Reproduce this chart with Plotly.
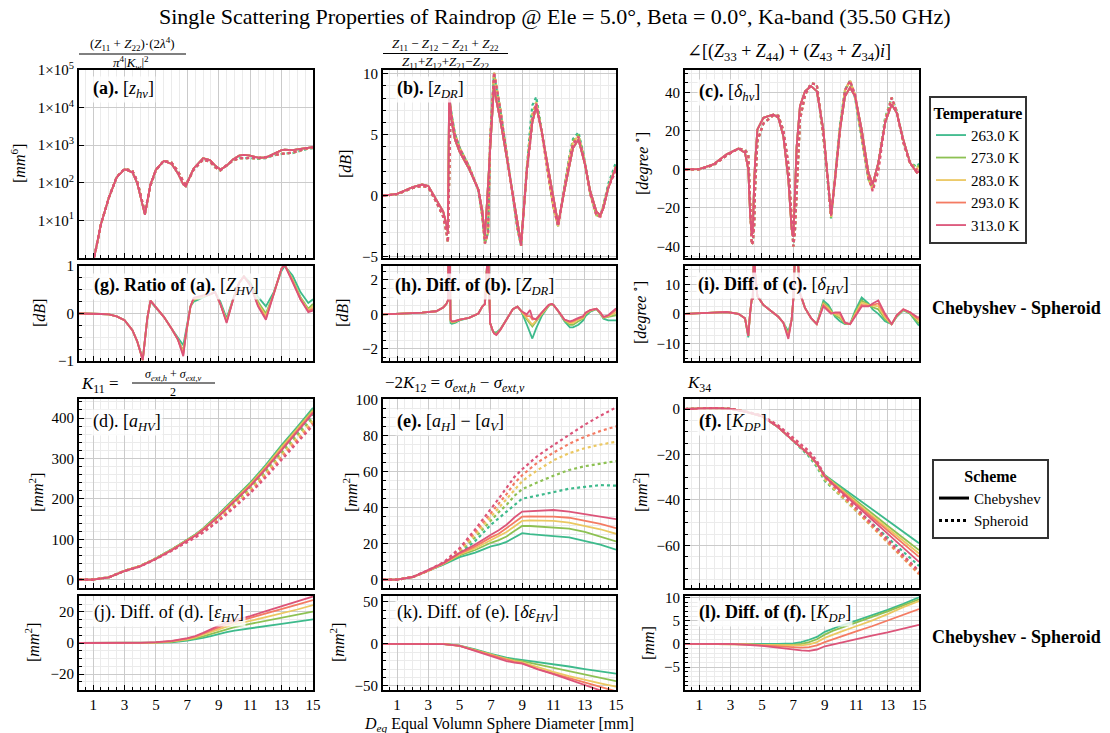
import plotly.graph_objects as go

W, H = 1110, 733
FONT = "'Liberation Serif', 'DejaVu Serif', 'Times New Roman', serif"

TEMPERATURES = ["263.0 K", "273.0 K", "283.0 K", "293.0 K", "313.0 K"]
COLORS = ["#3dba8c", "#8dc153", "#ebc862", "#f47b63", "#dc5479"]
X_TICKS = [1, 3, 5, 7, 9, 11, 13, 15]

# ---------------- panel (a) / (g) : z_hv and its Chebyshev/Spheroid ratio ----------------
D_a = [0.1, 0.5, 1.0, 1.5, 2.0, 2.5, 3.0, 3.5, 3.8, 4.05, 4.16, 4.3, 4.45, 4.65, 5.0, 5.5, 6.0,
       6.4, 6.74, 6.9, 7.2, 7.4, 8.0, 8.44, 8.76, 9.1, 9.5, 9.9, 10.3, 10.6, 11.0, 11.5, 12.0,
       12.5, 13.0, 13.2, 13.7, 14.2, 14.7, 15.0]
zhv_cheb = [1e-6, 0.012, 0.75, 8, 40, 140, 230, 190, 100, 38, 22, 14, 32, 90, 225, 380, 316,
            178, 90, 80, 158, 240, 450, 400, 290, 225, 282, 417, 525, 550, 525, 470, 468,
            600, 740, 760, 740, 795, 850, 890]
ratio_263 = [0, 0, 0, -0.01, -0.02, -0.06, -0.14, -0.35, -0.58, -0.85, -0.95, -0.55, -0.1, 0.25, 0.12, -0.07, -0.32,
             -0.5, -0.67, -0.38, 0.15, 0.25, 0.34, 0.4, 0.45, 0.25, -0.1, 0.3, 0.65, 0.78, 0.65, 0.35, 0.15,
             0.45, 0.9, 1.0, 0.8, 0.45, 0.22, 0.3]
ratio_273 = [0, 0, 0, -0.01, -0.02, -0.06, -0.14, -0.35, -0.58, -0.85, -0.98, -0.55, -0.1, 0.27, 0.12, -0.07, -0.32,
             -0.55, -0.78, -0.45, 0.15, 0.28, 0.35, 0.4, 0.45, 0.2, -0.14, 0.28, 0.65, 0.78, 0.6, 0.25, 0.0,
             0.42, 0.95, 1.02, 0.72, 0.35, 0.1, 0.2]
ratio_283 = [0, 0, 0, -0.01, -0.02, -0.06, -0.14, -0.35, -0.58, -0.85, -0.98, -0.55, -0.1, 0.27, 0.12, -0.07, -0.32,
             -0.55, -0.82, -0.45, 0.15, 0.3, 0.36, 0.4, 0.45, 0.2, -0.16, 0.28, 0.65, 0.78, 0.6, 0.2, -0.05,
             0.4, 0.95, 1.02, 0.7, 0.32, 0.07, 0.15]
ratio_293 = [0, 0, 0, -0.01, -0.02, -0.06, -0.14, -0.35, -0.58, -0.85, -0.98, -0.55, -0.1, 0.27, 0.12, -0.07, -0.32,
             -0.55, -0.86, -0.45, 0.15, 0.32, 0.37, 0.4, 0.45, 0.2, -0.18, 0.28, 0.65, 0.78, 0.6, 0.17, -0.1,
             0.4, 0.95, 1.02, 0.68, 0.3, 0.05, 0.1]
ratio_313 = [0, 0, 0, -0.01, -0.02, -0.06, -0.14, -0.35, -0.58, -0.85, -0.98, -0.55, -0.1, 0.27, 0.12, -0.07, -0.32,
             -0.55, -0.9, -0.45, 0.15, 0.33, 0.38, 0.4, 0.45, 0.2, -0.2, 0.28, 0.65, 0.78, 0.6, 0.15, -0.13,
             0.4, 0.95, 1.02, 0.66, 0.3, 0.03, 0.06]

# ---------------- panel (b) / (h) : Z_DR ----------------
D_b = [0.1, 1.0, 2.0, 2.6, 3.0, 3.5, 3.95, 4.15, 4.25, 4.33, 4.42, 4.5, 4.7, 5.0, 5.6, 6.2, 6.45,
       6.62, 6.82, 6.95, 7.1, 7.2, 7.35, 7.6, 8.0, 8.4, 8.7, 8.93, 9.3, 9.5, 9.65, 9.9, 10.25,
       10.7, 10.9, 11.0, 11.3, 11.7, 12.05, 12.25, 12.6, 12.9, 13.05, 13.35, 13.75, 14.0, 14.2,
       14.5, 15.0]
zdr_cheb = [0.0, 0.15, 0.7, 0.92, 0.8, -0.3, -1.3, -2.3, -3.0, 8.5, 6.8, 6.0, 4.6, 3.6, 2.2, 0.5, -1.2,
            -3.3, 1.0, 4.0, 7.0, 9.0, 7.8, 6.2, 3.2, 0.2, -2.2, -3.9, 2.1, 4.4, 6.0, 7.3, 5.3,
            2.0, 0.6, -0.4, -2.3, 0.4, 2.7, 3.9, 4.6, 3.2, 2.4, 0.4, -1.3, -1.6, -1.0,
            0.6, 2.4]
zdr_diff_263 = [0.0, 0.02, 0.07, 0.1, 0.12, 0.18, 0.4, 0.6, 0.8, 7.0, -0.5, -0.55, -0.5, -0.35, -0.2, 0.05, 0.45,
                0.6, 4.0, -0.5, -0.9, -1.05, -1.05, -0.85, -0.3, 0.3, 0.45, 0.2, -0.6, -1.1, -1.4, -0.8, -0.1,
                0.5, 0.6, 0.55, 0.2, -0.4, -0.75, -0.75, -0.6, -0.35, -0.1, 0.15, 0.3, 0.05, -0.25,
                -0.35, -0.35]
zdr_diff_273 = [0.0, 0.02, 0.07, 0.1, 0.12, 0.18, 0.4, 0.6, 0.8, 7.0, -0.4, -0.48, -0.45, -0.32, -0.2, 0.05, 0.45,
                0.6, 4.0, -0.5, -0.9, -1.08, -1.12, -0.88, -0.3, 0.3, 0.45, 0.2, -0.3, -0.55, -0.7, -0.4, 0.0,
                0.5, 0.6, 0.55, 0.2, -0.35, -0.6, -0.6, -0.4, -0.25, 0.0, 0.2, 0.31, 0.06, -0.2,
                -0.15, -0.05]
zdr_diff_283 = [0.0, 0.02, 0.07, 0.1, 0.12, 0.18, 0.4, 0.6, 0.8, 7.0, -0.36, -0.45, -0.42, -0.3, -0.2, 0.05, 0.45,
                0.6, 4.0, -0.5, -0.9, -1.1, -1.15, -0.9, -0.3, 0.3, 0.45, 0.2, -0.2, -0.4, -0.6, -0.35, 0.05,
                0.52, 0.6, 0.55, 0.2, -0.32, -0.5, -0.5, -0.3, -0.2, 0.05, 0.22, 0.32, 0.08, -0.18,
                -0.1, 0.1]
zdr_diff_293 = [0.0, 0.02, 0.07, 0.1, 0.12, 0.18, 0.4, 0.6, 0.8, 7.0, -0.33, -0.42, -0.4, -0.3, -0.2, 0.05, 0.45,
                0.6, 4.0, -0.5, -0.9, -1.1, -1.18, -0.9, -0.3, 0.3, 0.45, 0.2, -0.1, -0.1, -0.3, -0.25, 0.1,
                0.55, 0.6, 0.55, 0.2, -0.3, -0.45, -0.4, -0.25, -0.15, 0.08, 0.24, 0.32, 0.1, -0.16,
                -0.08, 0.25]
zdr_diff_313 = [0.0, 0.02, 0.07, 0.1, 0.12, 0.18, 0.4, 0.6, 0.8, 7.0, -0.3, -0.4, -0.38, -0.3, -0.2, 0.05, 0.45,
                0.6, 4.0, -0.5, -0.9, -1.1, -1.2, -0.9, -0.3, 0.3, 0.45, 0.2, 0.0, 0.25, -0.2, -0.3, 0.1,
                0.55, 0.6, 0.55, 0.2, -0.3, -0.4, -0.35, -0.2, -0.1, 0.1, 0.25, 0.33, 0.1, -0.15,
                -0.05, 0.35]

# ---------------- panel (c) / (i) : delta_hv ----------------
D_c = [0.1, 1.0, 1.9, 2.75, 3.5, 3.92, 4.13, 4.24, 4.35, 4.41, 4.5, 4.56, 4.71, 5.09, 5.73, 6.04,
       6.36, 6.68, 6.89, 7.0, 7.1, 7.21, 7.42, 7.74, 8.13, 8.49, 8.91, 9.23, 9.4, 9.65, 9.97,
       10.29, 10.61, 10.93, 11.35, 11.78, 12.05, 12.41, 12.84, 13.26, 13.58, 14.0, 14.43, 14.86, 15.0]
dhv_cheb = [0.0, 0.1, 2.6, 7.8, 10.8, 8.6, 0.0, -22.0, -34.0, -33.0, -8.0, 3.5, 20.7, 26.8, 28.5, 26.8,
            17.3, -5.2, -31.0, -35.0, -12.0, 12.0, 32.8, 40.6, 43.2, 40.6, 20.7, -6.9, -24.0, -5.2, 20.7,
            38.0, 42.5, 38.0, 20.7, -1.7, -7.8, 3.5, 24.2, 33.7, 29.4, 15.5, 3.5, -1.7, -1.0]
dhv_diff_263 = [0.0, 0.1, 0.4, 0.6, 0.0, -1.5, -8.0, 0.0, 5.0, 5.0, 22.0, 14.0, 6.0, 3.0, 0.3, -1.0,
                -3.0, -6.0, -2.0, 5.0, 20.0, 25.0, 7.0, 2.0, -1.5, -3.5, 4.5, 3.0, 1.5, -1.0, -2.5,
                -3.5, -3.5, 1.0, 5.5, 3.5, 1.5, 0.0, -2.5, -3.5, -1.0, 1.2, 0.0, -3.0, -4.0]
dhv_diff_273 = [0.0, 0.1, 0.4, 0.6, 0.0, -1.5, -7.5, 0.0, 5.0, 5.0, 22.0, 14.0, 6.0, 3.0, 0.3, -1.0,
                -3.0, -7.0, -2.0, 5.0, 20.0, 25.0, 7.0, 2.0, -1.5, -3.5, 3.8, 2.3, 1.0, -0.5, -1.5,
                -3.3, -3.5, 0.3, 4.5, 3.2, 2.2, 1.5, -1.8, -3.5, -0.8, 1.3, 0.2, -2.5, -3.2]
dhv_diff_283 = [0.0, 0.1, 0.4, 0.6, 0.0, -1.5, -7.5, 0.0, 5.0, 5.0, 22.0, 14.0, 6.0, 3.0, 0.3, -1.0,
                -3.0, -7.5, -2.0, 5.0, 20.0, 25.0, 7.0, 2.0, -1.5, -3.5, 3.3, 1.8, 0.6, -0.1, -0.8,
                -3.2, -3.5, -0.2, 3.8, 3.0, 2.7, 2.5, -1.2, -3.5, -0.6, 1.4, 0.4, -2.0, -2.5]
dhv_diff_293 = [0.0, 0.1, 0.4, 0.6, 0.0, -1.5, -7.5, 0.0, 5.0, 5.0, 22.0, 14.0, 6.0, 3.0, 0.3, -1.0,
                -3.0, -8.0, -2.0, 5.0, 20.0, 25.0, 7.0, 2.0, -1.5, -3.5, 3.0, 1.4, 0.3, 0.2, 0.0,
                -3.1, -3.5, -0.6, 3.0, 2.7, 3.1, 3.5, -0.6, -3.5, -0.5, 1.5, 0.5, -1.5, -1.8]
dhv_diff_313 = [0.0, 0.1, 0.4, 0.6, 0.0, -1.5, -7.5, 0.0, 5.0, 5.0, 22.0, 14.0, 6.0, 3.0, 0.3, -1.0,
                -3.0, -8.5, -2.0, 5.0, 20.0, 25.0, 7.0, 2.0, -1.5, -3.5, 2.5, 1.0, 0.0, 0.5, 0.5,
                -3.0, -3.5, -1.0, 2.5, 2.5, 3.5, 4.5, 0.0, -3.5, -0.5, 1.5, 0.5, -1.0, -1.2]

# ---------------- smooth panels (d)(e)(f) and (j)(k)(l) ----------------
D_s = [0.1, 1, 2, 3, 4, 5, 6, 7, 7.5, 8, 8.5, 9, 9.5, 10, 11, 12, 13, 14, 15]

ahv_cheb_263 = [0, 0.4, 6, 22, 34, 53, 75, 99, 112, 127, 144, 163, 182, 201, 240, 284, 333, 378, 425]
ahv_cheb_273 = [0, 0.4, 6, 22, 34, 53, 74.5, 98, 111, 126, 142.5, 161, 180, 199, 238, 281, 330, 375, 421]
ahv_cheb_283 = [0, 0.4, 6, 22, 34, 52.5, 74, 97.5, 110, 125, 141, 160, 178, 197, 235, 279, 327, 372, 418]
ahv_cheb_293 = [0, 0.4, 6, 22, 33.5, 52, 73.5, 97, 109.5, 124, 140, 158.5, 177, 195, 233, 277, 324, 369, 415]
ahv_cheb_313 = [0, 0.4, 6, 21.5, 33, 51.5, 73, 96, 108.5, 123, 139, 157, 175, 193, 231, 274, 321, 366, 412]

ahv_diff_263 = [0, 0, 0, 0, 0, 0.1, 0.4, 1.5, 2.3, 3.3, 4.5, 5.9, 7.0, 8.0, 9.6, 11.0, 12.4, 13.8, 15.3]
ahv_diff_273 = [0, 0, 0, 0, 0, 0.2, 0.7, 2.0, 3.0, 4.3, 5.8, 7.5, 9.0, 10.2, 12.3, 14.2, 16.0, 18.0, 20.2]
ahv_diff_283 = [0, 0, 0, 0, 0, 0.3, 1.0, 2.4, 3.6, 5.2, 7.0, 8.8, 10.6, 12.0, 14.2, 16.6, 19.0, 21.6, 24.5]
ahv_diff_293 = [0, 0, 0, 0, 0.05, 0.4, 1.2, 2.8, 4.1, 5.9, 8.0, 10.0, 12.0, 13.4, 15.9, 18.8, 21.7, 24.7, 27.7]
ahv_diff_313 = [0, 0, 0, 0, 0.1, 0.5, 1.4, 3.1, 4.5, 6.5, 9.0, 11.4, 13.5, 14.8, 17.4, 20.5, 23.8, 27.0, 30.0]

ahv_dif_cheb_263 = [0, 0, 1.5, 5, 8.5, 12.5, 15, 18.5, 19.5, 21, 23.5, 25.8, 25.3, 24.8, 24.2, 23.5, 21.5, 19.5, 16.7]
ahv_dif_cheb_273 = [0, 0, 1.5, 5, 9, 13.5, 16.5, 20.5, 22, 24, 27, 29.8, 29.8, 29.6, 29.2, 28.4, 26.5, 24.0, 21.3]
ahv_dif_cheb_283 = [0, 0, 1.5, 5, 9, 14, 17.5, 22, 24, 26.5, 29.5, 32.7, 32.9, 32.9, 32.7, 31.7, 30.0, 28.0, 25.5]
ahv_dif_cheb_293 = [0, 0, 1.5, 5, 9.2, 14.5, 18.5, 23.5, 25.5, 28.5, 32, 35.0, 35.1, 35.2, 35.0, 34.4, 32.8, 31.0, 28.6]
ahv_dif_cheb_313 = [0, 0, 1.5, 5.3, 9.5, 15, 19.5, 25, 27.5, 30.5, 34.5, 37.8, 38.0, 38.3, 38.7, 37.8, 36.5, 35.0, 33.6]

ahv_dif_diff_263 = [0, 0, 0, 0, -0.2, -2.2, -6.5, -12.0, -14.5, -16.5, -18.0, -19.2, -20.5, -22.0, -24.5, -27.0, -30.0, -33.0, -35.5]
ahv_dif_diff_273 = [0, 0, 0, 0, -0.2, -2.2, -7.0, -12.5, -15.5, -17.5, -19.5, -20.5, -22.5, -24.5, -28.5, -32.5, -36.5, -40.5, -44.5]
ahv_dif_diff_283 = [0, 0, 0, 0, -0.2, -2.3, -7.5, -13.0, -16.0, -18.5, -20.5, -22.0, -25.0, -28.0, -33.5, -38.5, -43.0, -47.0, -51.0]
ahv_dif_diff_293 = [0, 0, 0, 0, -0.3, -2.4, -8.0, -13.5, -16.5, -19.0, -21.5, -23.0, -26.5, -30.0, -35.5, -41.0, -46.5, -51.5, -56.5]
ahv_dif_diff_313 = [0, 0, 0, 0, -0.3, -2.5, -8.5, -14.0, -17.5, -20.5, -22.5, -23.5, -27.0, -30.5, -36.0, -42.5, -49.5, -56.0, -62.0]

kdp_cheb_263 = [0, 0.2, 0.4, 0.1, -1.3, -3.2, -7.8, -14.0, -17.0, -20.0, -24.0, -29.0, -31.5, -34.0, -39.0, -44.0, -49.0, -54.0, -59.0]
kdp_cheb_273 = [0, 0.2, 0.4, 0.1, -1.3, -3.2, -7.8, -14.0, -17.0, -20.0, -24.0, -29.2, -32.0, -34.8, -40.3, -45.8, -51.3, -56.7, -62.0]
kdp_cheb_283 = [0, 0.2, 0.4, 0.1, -1.3, -3.2, -7.8, -14.0, -17.0, -20.0, -24.0, -29.4, -32.3, -35.3, -41.0, -46.8, -52.5, -58.0, -63.5]
kdp_cheb_293 = [0, 0.2, 0.4, 0.1, -1.3, -3.2, -7.8, -14.0, -17.0, -20.0, -24.0, -29.6, -32.6, -35.7, -41.6, -47.6, -53.5, -59.3, -65.0]
kdp_cheb_313 = [0, 0.2, 0.4, 0.1, -1.3, -3.2, -7.8, -14.0, -17.0, -20.0, -24.0, -29.8, -33.0, -36.2, -42.4, -48.6, -54.8, -61.0, -67.2]

kdp_diff_263 = [0, 0, 0, 0, -0.1, -0.1, 0, 0.1, 0.4, 0.9, 1.5, 2.6, 3.3, 3.9, 5.0, 6.1, 7.3, 8.6, 10.0]
kdp_diff_273 = [0, 0, 0, 0, -0.1, -0.2, -0.2, -0.2, 0.0, 0.4, 1.0, 2.0, 2.8, 3.4, 4.5, 5.7, 7.0, 8.3, 9.6]
kdp_diff_283 = [0, 0, 0, 0, -0.1, -0.2, -0.3, -0.4, -0.3, -0.1, 0.4, 1.3, 2.0, 2.6, 3.8, 5.0, 6.4, 7.9, 9.2]
kdp_diff_293 = [0, 0, 0, 0, -0.1, -0.3, -0.5, -0.8, -0.8, -0.7, -0.3, 0.4, 1.0, 1.6, 2.7, 3.8, 5.0, 6.3, 7.5]
kdp_diff_313 = [0, 0, 0, 0, -0.2, -0.4, -0.8, -1.3, -1.4, -1.5, -1.2, -0.5, -0.1, 0.3, 1.1, 1.8, 2.5, 3.3, 4.1]

zhv_ratio = [ratio_263, ratio_273, ratio_283, ratio_293, ratio_313]
zdr_diff = [zdr_diff_263, zdr_diff_273, zdr_diff_283, zdr_diff_293, zdr_diff_313]
dhv_diff = [dhv_diff_263, dhv_diff_273, dhv_diff_283, dhv_diff_293, dhv_diff_313]
ahv_cheb = [ahv_cheb_263, ahv_cheb_273, ahv_cheb_283, ahv_cheb_293, ahv_cheb_313]
ahv_diff = [ahv_diff_263, ahv_diff_273, ahv_diff_283, ahv_diff_293, ahv_diff_313]
ahd_cheb = [ahv_dif_cheb_263, ahv_dif_cheb_273, ahv_dif_cheb_283, ahv_dif_cheb_293, ahv_dif_cheb_313]
ahd_diff = [ahv_dif_diff_263, ahv_dif_diff_273, ahv_dif_diff_283, ahv_dif_diff_293, ahv_dif_diff_313]
kdp_cheb = [kdp_cheb_263, kdp_cheb_273, kdp_cheb_283, kdp_cheb_293, kdp_cheb_313]
kdp_diff = [kdp_diff_263, kdp_diff_273, kdp_diff_283, kdp_diff_293, kdp_diff_313]

# ---------------- figure ----------------
fig = go.Figure()


def names(n):
    return ("x" if n == 1 else f"x{n}"), ("y" if n == 1 else f"y{n}")


def line(n, x, y, color, dash="solid", width=1.8, name=None, show=False):
    xa, ya = names(n)
    fig.add_trace(go.Scatter(x=x, y=y, xaxis=xa, yaxis=ya, mode="lines",
                             line=dict(color=color, width=width, dash=dash),
                             name=name, showlegend=show, legend="legend",
                             hoverinfo="skip"))


for t in range(5):
    c = COLORS[t]
    # (a)
    line(1, D_a, zhv_cheb, c, name=TEMPERATURES[t], show=True)
    line(1, D_a, [v / 10 ** (r / 10) for v, r in zip(zhv_cheb, zhv_ratio[t])], c, "dot", 2.2)
    # (b)
    line(2, D_b, zdr_cheb, c)
    line(2, D_b, [v - d for v, d in zip(zdr_cheb, zdr_diff[t])], c, "dot", 2.2)
    # (c)
    line(3, D_c, dhv_cheb, c)
    line(3, D_c, [v - d for v, d in zip(dhv_cheb, dhv_diff[t])], c, "dot", 2.2)
    # (g)(h)(i)
    line(4, D_a, zhv_ratio[t], c)
    line(5, D_b, zdr_diff[t], c)
    line(6, D_c, dhv_diff[t], c)
    # (d)(e)(f)
    line(7, D_s, ahv_cheb[t], c)
    line(7, D_s, [v - d for v, d in zip(ahv_cheb[t], ahv_diff[t])], c, "dot", 2.2)
    line(8, D_s, ahd_cheb[t], c)
    line(8, D_s, [v - d for v, d in zip(ahd_cheb[t], ahd_diff[t])], c, "dot", 2.2)
    line(9, D_s, kdp_cheb[t], c)
    line(9, D_s, [v - d for v, d in zip(kdp_cheb[t], kdp_diff[t])], c, "dot", 2.2)
    # (j)(k)(l)
    line(10, D_s, ahv_diff[t], c)
    line(11, D_s, ahd_diff[t], c)
    line(12, D_s, kdp_diff[t], c)

# scheme legend entries
fig.add_trace(go.Scatter(x=[None], y=[None], mode="lines", name="Chebyshev",
                         line=dict(color="black", width=3), legend="legend2"))
fig.add_trace(go.Scatter(x=[None], y=[None], mode="lines", name="Spheroid",
                         line=dict(color="black", width=3, dash="dot"), legend="legend2"))

COLS = [(79, 313), (383, 616), (685, 919)]
ROWS = [(70, 258), (266, 361), (399, 588), (596, 690)]

PANELS = {
    1: dict(r=0, c=0, rng=[0, 5], log=True),
    2: dict(r=0, c=1, rng=[-5.1, 10.3], dt=5, mn=1),
    3: dict(r=0, c=2, rng=[-46, 51.6], dt=20, mn=5),
    4: dict(r=1, c=0, rng=[-1, 1], dt=1, mn=0.25),
    5: dict(r=1, c=1, rng=[-2.7, 2.8], dt=2, mn=0.5),
    6: dict(r=1, c=2, rng=[-16, 16.2], dt=10, mn=2.5),
    7: dict(r=2, c=0, rng=[-20.5, 447], dt=100, mn=20),
    8: dict(r=2, c=1, rng=[-4.6, 100.3], dt=20, mn=5),
    9: dict(r=2, c=2, rng=[-78.7, 4.4], dt=20, mn=5),
    10: dict(r=3, c=0, rng=[-30.3, 30.3], dt=20, mn=5),
    11: dict(r=3, c=1, rng=[-55, 57], dt=50, mn=10),
    12: dict(r=3, c=2, rng=[-9.9, 10.3], dt=5, mn=1),
}

GRID = "#cbcbcb"
MINOR_GRID = "#ebebeb"
tickfont = dict(family=FONT, size=15, color="black")
layout = {}
for n, p in PANELS.items():
    x0, x1 = COLS[p["c"]]
    y0, y1 = ROWS[p["r"]]
    xa = "xaxis" if n == 1 else f"xaxis{n}"
    ya = "yaxis" if n == 1 else f"yaxis{n}"
    xn, yn = names(n)
    layout[xa] = dict(domain=[x0 / W, x1 / W], anchor=yn, range=[0.1, 15],
                      tickmode="array", tickvals=X_TICKS, showticklabels=(p["r"] == 3),
                      ticks="inside", ticklen=5, tickwidth=1.2, tickcolor="black",
                      showline=True, linecolor="black", linewidth=2, mirror=True,
                      showgrid=True, gridcolor=GRID, gridwidth=1, zeroline=False,
                      tickfont=tickfont,
                      minor=dict(dtick=0.5, tick0=0, ticks="inside", ticklen=3,
                                 tickcolor="black", showgrid=True, gridcolor=MINOR_GRID))
    yd = dict(domain=[1 - y1 / H, 1 - y0 / H], anchor=xn, range=p["rng"],
              ticks="inside", ticklen=5, tickwidth=1.2, tickcolor="black",
              showline=True, linecolor="black", linewidth=2, mirror=True,
              showgrid=True, gridcolor=GRID, gridwidth=1, zeroline=False,
              tickfont=tickfont)
    if p.get("log"):
        yd.update(type="log", tickmode="array",
                  tickvals=[10, 100, 1000, 10000, 100000],
                  ticktext=[f"1×10<sup>{k}</sup>" for k in range(1, 6)])
    else:
        yd.update(tick0=0, dtick=p["dt"],
                  minor=dict(dtick=p["mn"], ticks="inside", ticklen=3, tickcolor="black",
                             showgrid=True, gridcolor=MINOR_GRID))
    layout[ya] = yd

ann = []


def text(px, py, s, size=15, xanchor="center", angle=0, bg=None):
    d = dict(x=px / W, y=1 - py / H, xref="paper", yref="paper", text=s, showarrow=False,
             xanchor=xanchor, yanchor="middle", textangle=angle,
             font=dict(family=FONT, size=size, color="black"))
    if bg:
        d.update(bgcolor=bg, borderpad=1)
    ann.append(d)


# main title
text(555, 16, "Single Scattering Properties of Raindrop @ Ele = 5.0°, Beta = 0.0°, Ka-band (35.50 GHz)", 22)
# x axis title
text(499, 724, "<i>D<sub>eq</sub></i> Equal Volumn Sphere Diameter [mm]", 16)

# formula titles above panels
text(132, 44, "(<i>Z</i><sub>11</sub> + <i>Z</i><sub>22</sub>)·(2<i>λ</i><sup>4</sup>)", 13)
text(131, 63, "<i>π</i><sup>4</sup>|<i>K<sub>w</sub></i>|<sup>2</sup>", 13)
text(445, 44, "<i>Z</i><sub>11</sub> − <i>Z</i><sub>12</sub> − <i>Z</i><sub>21</sub> + <i>Z</i><sub>22</sub>", 13)
text(445, 63, "<i>Z</i><sub>11</sub>+<i>Z</i><sub>12</sub>+<i>Z</i><sub>21</sub>−<i>Z</i><sub>22</sub>", 13)
text(685, 52, "∠[(<i>Z</i><sub>33</sub> + <i>Z</i><sub>44</sub>) + (<i>Z</i><sub>43</sub> + <i>Z</i><sub>34</sub>)<i>i</i>]", 18, "left")
text(79, 385, "<i>K</i><sub>11</sub> =", 17, "left")
text(173, 375, "<i>σ<sub>ext,h</sub></i> + <i>σ<sub>ext,v</sub></i>", 12)
text(173, 392, "2", 12)
text(383, 384, "−2<i>K</i><sub>12</sub> = <i>σ<sub>ext,h</sub></i> − <i>σ<sub>ext,v</sub></i>", 17, "left")
text(685, 384, "<i>K</i><sub>34</sub>", 17, "left")

# panel labels
BG = "rgba(255,255,255,0.8)"
text(91, 90, "<b>(a).</b> [<i>z<sub>hv</sub></i>]", 18, "left", bg=BG)
text(395, 89, "<b>(b).</b> [<i>z<sub>DR</sub></i>]", 18, "left", bg=BG)
text(697, 92, "<b>(c).</b> [<i>δ<sub>hv</sub></i>]", 18, "left", bg=BG)
text(92, 286, "<b>(g). Ratio of (a).</b> [<i>Z<sub>HV</sub></i>]", 18, "left", bg=BG)
text(393, 286, "<b>(h). Diff. of (b).</b> [<i>Z<sub>DR</sub></i>]", 18, "left", bg=BG)
text(696, 285, "<b>(i). Diff. of (c).</b> [<i>δ<sub>HV</sub></i>]", 18, "left", bg=BG)
text(91, 422, "(d). [<i>a<sub>HV</sub></i>]", 18, "left", bg=BG)
text(395, 422, "<b>(e).</b> [<i>a<sub>H</sub></i>] − [<i>a<sub>V</sub></i>]", 18, "left", bg=BG)
text(697, 422, "<b>(f).</b> [<i>K<sub>DP</sub></i>]", 18, "left", bg=BG)
text(92, 613, "(j). Diff. of (d). [<i>ε<sub>HV</sub></i>]", 18, "left", bg=BG)
text(395, 613, "(k). Diff. of (e). [<i>δε<sub>HV</sub></i>]", 18, "left", bg=BG)
text(697, 613, "<b>(l). Diff. of (f).</b> [<i>K<sub>DP</sub></i>]", 18, "left", bg=BG)

# y axis titles
text(18, 164, "[<i>mm</i><sup>6</sup>]", 16, angle=-90)
text(345, 164, "[<i>dB</i>]", 16, angle=-90)
text(641, 164, "[<i>degree</i> <sup>∘</sup>]", 16, angle=-90)
text(40, 313, "[<i>dB</i>]", 16, angle=-90)
text(343, 313, "[<i>dB</i>]", 16, angle=-90)
text(640, 313, "[<i>degree</i> <sup>∘</sup>]", 16, angle=-90)
text(36, 493, "[<i>mm</i><sup>2</sup>]", 16, angle=-90)
text(350, 493, "[<i>mm</i><sup>2</sup>]", 16, angle=-90)
text(640, 493, "[<i>mm</i><sup>2</sup>]", 16, angle=-90)
text(32, 643, "[<i>mm</i><sup>2</sup>]", 16, angle=-90)
text(337, 643, "[<i>mm</i><sup>2</sup>]", 16, angle=-90)
text(648, 643, "[<i>mm</i>]", 16, angle=-90)

# side notes
text(930, 308, "<b>Chebyshev - Spheroid</b>", 18, "left")
text(930, 637, "<b>Chebyshev - Spheroid</b>", 18, "left")

shapes = [
    dict(type="line", xref="paper", yref="paper", x0=79 / W, x1=186 / W, y0=1 - 54 / H, y1=1 - 54 / H,
         line=dict(color="black", width=1)),
    dict(type="line", xref="paper", yref="paper", x0=383 / W, x1=508 / W, y0=1 - 53.5 / H, y1=1 - 53.5 / H,
         line=dict(color="black", width=1)),
    dict(type="line", xref="paper", yref="paper", x0=132 / W, x1=215 / W, y0=1 - 383 / H, y1=1 - 383 / H,
         line=dict(color="black", width=1)),
]

fig.update_layout(
    width=W, height=H, margin=dict(l=0, r=0, t=0, b=0),
    paper_bgcolor="white", plot_bgcolor="white", template="none",
    font=dict(family=FONT, color="black"),
    annotations=ann, shapes=shapes,
    legend=dict(x=929 / W, y=1 - 96 / H, xanchor="left", yanchor="top",
                bordercolor="#333333", borderwidth=2, bgcolor="white",
                font=dict(family=FONT, size=15, color="black"),
                title=dict(text="<b>Temperature</b>", side="top center",
                           font=dict(family=FONT, size=16, color="black")),
                itemwidth=30, tracegroupgap=0),
    legend2=dict(x=932 / W, y=1 - 459 / H, xanchor="left", yanchor="top",
                 bordercolor="#333333", borderwidth=2, bgcolor="white",
                 font=dict(family=FONT, size=15, color="black"),
                 title=dict(text="<b>Scheme</b>", side="top center",
                            font=dict(family=FONT, size=16, color="black")),
                 itemwidth=30),
    **layout,
)

fig.write_html("out.html")
